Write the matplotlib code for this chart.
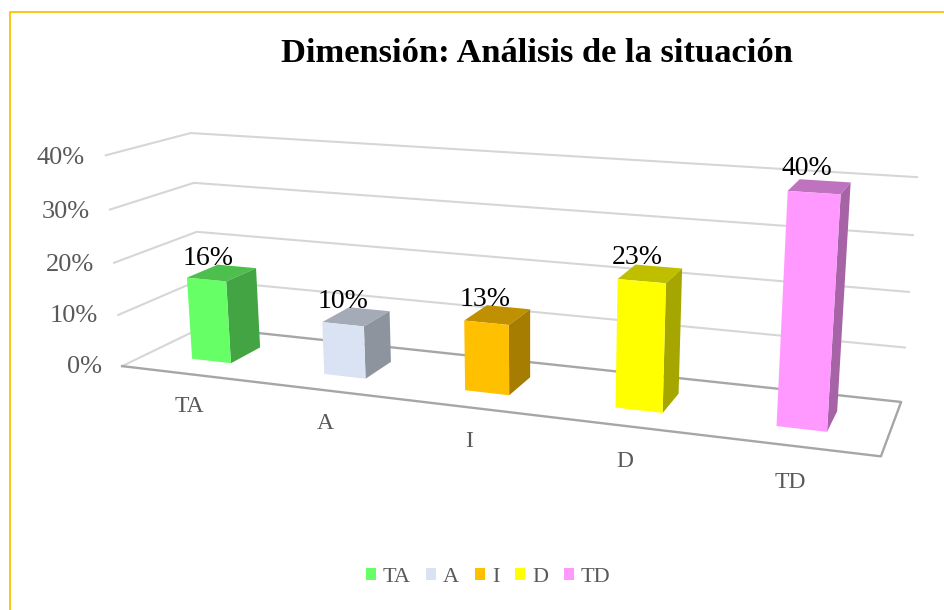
import numpy as np
import matplotlib
matplotlib.use('Agg')
import matplotlib.pyplot as plt
from matplotlib.lines import Line2D
from matplotlib.patches import Patch
from mpl_toolkits.mplot3d import proj3d

categories = ['TA', 'A', 'I', 'D', 'TD']
values = [16, 10, 13, 23, 40]
axis_ticks = [0, 10, 20, 30, 40]
front_colors = ['#66FF66', '#DAE3F3', '#FFC000', '#FFFF00', '#FF99FF']
top_colors = ['#4DBF4D', '#A4AAB6', '#BF9000', '#BFBF00', '#BF73BF']
side_colors = ['#43A443', '#8E949E', '#A67D00', '#A6A600', '#A664A6']

W, H = 944, 610
plt.rcParams['font.family'] = ['Liberation Serif', 'DejaVu Serif']

# camera: (category, depth, percent) -> picture pixels, fitted on the chart box corners
box = [(0, 0, 0, 122, 366), (0, 0, 10, 118, 315), (0, 0, 20, 114, 263), (0, 0, 30, 110, 210), (0, 0, 40, 106, 155),
       (0, 1, 0, 203, 327), (0, 1, 20, 196.7, 231.5), (0, 1, 30, 193.7, 183), (0, 1, 40, 190.7, 133),
       (5, 1, 0, 901, 402), (5, 1, 10, 905, 348), (5, 1, 20, 909, 292), (5, 1, 30, 913, 235), (5, 1, 40, 917, 177),
       (5, 0, 0, 881, 456)]
A = []
b = []
for x, y, z, px, py in box:
    A.append([x, y, z, 1, 0, 0, 0, 0, -px*x, -px*y, -px*z])
    b.append(px)
    A.append([0, 0, 0, 0, x, y, z, 1, -py*x, -py*y, -py*z])
    b.append(py)
p = np.linalg.lstsq(np.array(A, float), np.array(b, float), rcond=None)[0]
M = np.array([list(p[:4]), list(p[4:8]), [0, 1, 0, 0], list(p[8:]) + [1]])

fig = plt.figure(figsize=(W/100, H/100), dpi=100, facecolor='white')
ax = fig.add_axes([0, 0, 1, 1], projection='3d', computed_zorder=False, proj_type='ortho')
ax.set_xticks([])
ax.set_yticks([])
ax.set_zticks([])
ax.set_axis_off()
ax.get_proj = lambda: M
ax.apply_aspect = lambda position=None: None
ax.viewLim.intervalx = (0, W)
ax.viewLim.intervaly = (H, 0)

def label(x, y, z, s, **kw):
    px, py, _ = proj3d.proj_transform(x, y, z, M)
    ax.text2D(px, py, s, transform=ax.transData, va='center', **kw)

# walls
for v in axis_ticks[1:]:
    ax.plot([0, 0, 5], [0, 1, 1], [v, v, v], color='#D6D6D6', lw=1.5, zorder=1)
for v in axis_ticks:
    label(-0.16, 0, v - 0.7, f'{v}%', color='#595959', fontsize=19, ha='right', zorder=5)

# floor
ax.plot([0, 0], [0, 1], [0, 0], color='#D6D6D6', lw=1.5, zorder=1)
ax.plot([0, 5, 5, 0], [0, 0, 1, 1], [0, 0, 0, 0], color='#A6A6A6', lw=1.7, zorder=2)

# bars, hidden faces stay empty
bar_w = 0.3
y0, y1 = 0.3, 0.69
xs = np.arange(len(values)) + 0.5
colors = []
for f, t, s in zip(front_colors, top_colors, side_colors):
    colors += ['none', t, f, 'none', 'none', s]
ax.bar3d(xs - bar_w/2, [y0]*5, [0]*5, [bar_w]*5, [y1 - y0]*5, values, color=colors, shade=False, zorder=3)

for x, v, c in zip(xs, values, categories):
    label(x - 0.07, 0.45, v + 3, f'{v}%', color='black', fontsize=20, ha='center', zorder=6)
    label(x, 0, -6.3, c, color='#595959', fontsize=17, ha='center', zorder=5)

fig.text(537/W, 1 - 53/H, 'Dimensión: Análisis de la situación', fontsize=24.8, fontweight='bold',
         color='black', ha='center', va='center')

handles = [Patch(facecolor=c, edgecolor='none', label=n) for c, n in zip(front_colors, categories)]
fig.legend(handles=handles, loc='center', bbox_to_anchor=(488/W, 1 - 577/H), ncol=5, frameon=False, fontsize=16,
           labelcolor='#595959', handlelength=0.45, handleheight=0.45, handletextpad=0.3, columnspacing=0.72)

# chart frame, only left and top show in the picture
fig.add_artist(Line2D([10/W, 10/W, 1], [0, 1 - 12/H, 1 - 12/H], color='#FFC000', lw=1.3))

plt.savefig('out.png', dpi=100)
